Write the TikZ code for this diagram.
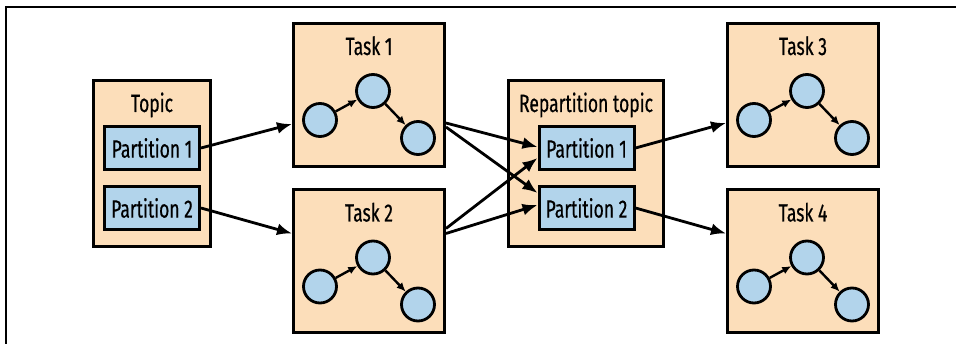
\documentclass[tikz,border=0pt]{standalone}
\usepackage{fontspec}
\setmainfont{Fira Sans}[FakeStretch=0.7, FakeBold=0.5]
\usetikzlibrary{arrows.meta, positioning}
\definecolor{peach}{RGB}{252, 222, 186}
\definecolor{skyBlue}{RGB}{178, 212, 235}

\begin{document}
\begin{tikzpicture}[
    x=1pt, y=-1pt,
    frame/.style={draw=black, line width=1.5pt},
    topicbox/.style={rectangle, draw=black, line width=3pt, fill=peach, minimum width=117pt, minimum height=166pt, inner sep=0pt},
    taskbox/.style={rectangle, draw=black, line width=3pt, fill=peach, minimum width=151pt, minimum height=143pt, inner sep=0pt},
    partbox/.style={rectangle, draw=black, line width=3pt, fill=skyBlue, minimum width=95pt, minimum height=43pt, inner sep=0pt, font=\fontsize{25}{27}\selectfont},
    title/.style={anchor=base, inner sep=0pt, font=\fontsize{25}{27}\selectfont},
    op/.style={circle, draw=black, line width=2.8pt, fill=skyBlue, minimum size=33pt, inner sep=0pt},
    arrow/.style={-{Latex[length=15pt, width=12pt]}, line width=2.8pt},
    small_arrow/.style={-{Latex[length=9pt, width=8pt]}, line width=2.4pt}
]
    \useasboundingbox (0,0) rectangle (956,344);
    \draw[frame] (6,344) -- (6,7) -- (956,7);

    % Topics
    \node[topicbox] (topic) at (152,163.5) {};
    \node[title] (topicTitle) at ([yshift=-33pt]topic.north) {Topic};
    \node[partbox] (topicP1) at (152,148) {Partition 1};
    \node[partbox] (topicP2) at (152,208) {Partition 2};

    \node[topicbox, minimum width=155pt] (repart) at (586,163.5) {};
    \node[title] (repartTitle) at ([yshift=-33pt]repart.north) {Repartition topic};
    \node[partbox] (repartP1) at (586.5,148) {Partition 1};
    \node[partbox] (repartP2) at (586.5,208) {Partition 2};

    % Tasks
    \node[taskbox] (task1) at (369,95) {};
    \node[taskbox] (task2) at (369,261.5) {};
    \node[taskbox] (task3) at (803,95) {};
    \node[taskbox] (task4) at (803,261.5) {};
    \foreach \t in {1,2,3,4} {
        \node[title] (task\t-title) at ([yshift=-33pt]task\t.north) {Task \t};
        \node[op] (op\t-a) at ([shift={(-49,25)}]task\t.center) {};
        \node[op] (op\t-b) at ([shift={(4,-4)}]task\t.center) {};
        \node[op] (op\t-c) at ([shift={(49,43)}]task\t.center) {};
        \draw[small_arrow] (op\t-a) -- (op\t-b);
        \draw[small_arrow] (op\t-b) -- (op\t-c);
    }

    % Connections
    \draw[arrow] (topicP1.east) -- ([yshift=-29pt]task1.west);
    \draw[arrow] (topicP2.east) -- ([yshift=28pt]task2.west);
    \draw[arrow] ([yshift=-28pt]task1.east) -- ([yshift=1pt]repartP1.west);
    \draw[arrow] ([yshift=-32pt]task1.east) -- ([yshift=15pt]repartP2.west);
    \draw[arrow] ([yshift=33pt]task2.east) -- ([yshift=-10pt]repartP1.west);
    \draw[arrow] ([yshift=28pt]task2.east) -- ([yshift=3pt]repartP2.west);
    \draw[arrow] (repartP1.east) -- ([yshift=-28pt]task3.west);
    \draw[arrow] (repartP2.east) -- ([yshift=28pt]task4.west);
\end{tikzpicture}
\end{document}
